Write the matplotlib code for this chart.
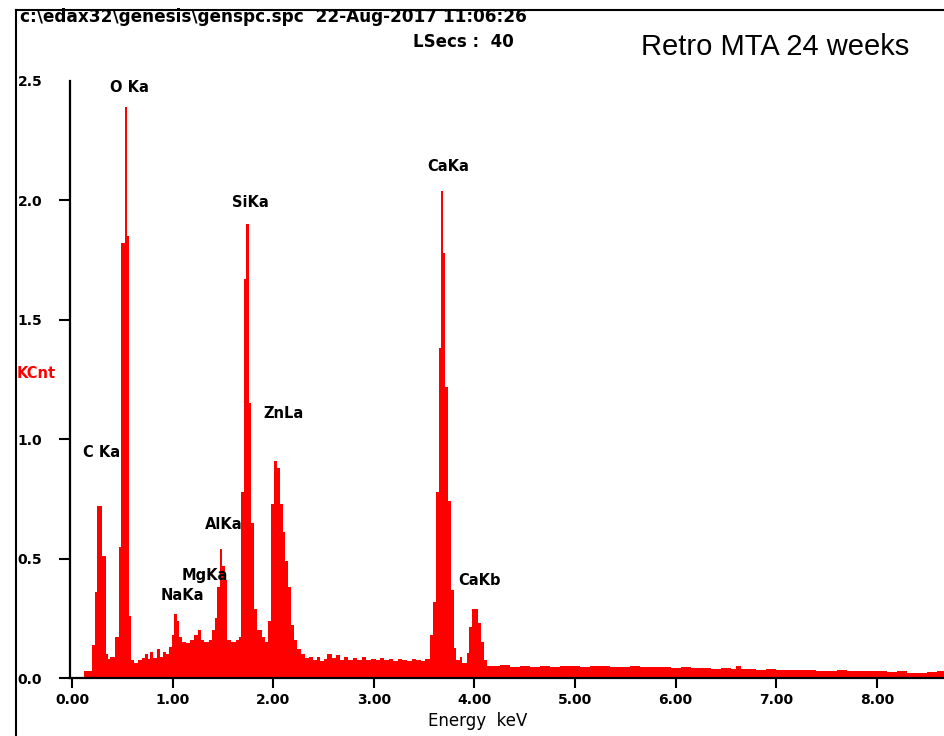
import matplotlib
matplotlib.use('Agg')
from matplotlib import pyplot as plt
from matplotlib.lines import Line2D
import numpy as np

# EDS spectrum, step heights in KCnt between energy edges (keV)
#low energy part: C, O, Na, Mg, Al, Si and Zn L lines
low_edges = [0.12, 0.20, 0.23, 0.25, 0.30, 0.335, 0.36, 0.38, 0.43, 0.47, 0.49, 0.528, 0.546,
             0.57, 0.59, 0.62, 0.66, 0.70, 0.73, 0.76, 0.78, 0.81, 0.84, 0.87, 0.90, 0.93, 0.96,
             0.99, 1.01, 1.04, 1.06, 1.09, 1.13, 1.17, 1.21, 1.25, 1.28, 1.31, 1.36, 1.39, 1.42,
             1.44, 1.47, 1.49, 1.52, 1.545, 1.58, 1.63, 1.66, 1.68, 1.713, 1.734, 1.756, 1.778,
             1.809, 1.842, 1.885, 1.92, 1.95, 1.98, 2.01, 2.04, 2.07, 2.10, 2.12, 2.15, 2.18,
             2.21, 2.24, 2.28, 2.32, 2.36]
low_kcnt = [0.03, 0.14, 0.36, 0.72, 0.51, 0.10, 0.08, 0.09, 0.17, 0.55, 1.82, 2.39, 1.85,
            0.26, 0.075, 0.063, 0.075, 0.085, 0.10, 0.08, 0.11, 0.085, 0.12, 0.09, 0.11, 0.10, 0.13,
            0.18, 0.27, 0.24, 0.17, 0.15, 0.145, 0.16, 0.18, 0.20, 0.16, 0.15, 0.16, 0.20, 0.25,
            0.38, 0.54, 0.47, 0.41, 0.16, 0.15, 0.16, 0.17, 0.78, 1.67, 1.90, 1.15, 0.65,
            0.29, 0.20, 0.17, 0.15, 0.24, 0.73, 0.91, 0.88, 0.73, 0.61, 0.49, 0.38, 0.22,
            0.16, 0.12, 0.10, 0.085, 0.09]

#middle part: background and the two Ca K lines
mid_edges = [2.40, 2.44, 2.47, 2.50, 2.53, 2.58, 2.62, 2.66, 2.70, 2.74, 2.79, 2.83, 2.88,
             2.92, 2.97, 3.02, 3.06, 3.10, 3.15, 3.19, 3.24, 3.28, 3.33, 3.38, 3.42, 3.47, 3.51,
             3.56, 3.59, 3.615, 3.645, 3.665, 3.685, 3.71, 3.74, 3.765, 3.795, 3.82, 3.86, 3.88,
             3.925, 3.95, 3.98, 4.04, 4.07, 4.10]
mid_kcnt = [0.075, 0.09, 0.07, 0.08, 0.10, 0.085, 0.095, 0.075, 0.09, 0.075, 0.085, 0.075, 0.09,
            0.075, 0.08, 0.075, 0.085, 0.075, 0.08, 0.07, 0.08, 0.075, 0.07, 0.08, 0.075, 0.07, 0.08,
            0.18, 0.32, 0.78, 1.38, 2.04, 1.78, 1.22, 0.74, 0.37, 0.125, 0.075, 0.09, 0.063,
            0.105, 0.215, 0.29, 0.23, 0.15, 0.075]

#high energy tail
high_edges = [4.13, 4.25, 4.35, 4.45, 4.55, 4.65, 4.75, 4.85, 4.95, 5.05, 5.15, 5.25, 5.35,
              5.45, 5.55, 5.65, 5.75, 5.85, 5.95, 6.05, 6.15, 6.25, 6.35, 6.45, 6.55, 6.60, 6.65,
              6.80, 6.90, 7.00, 7.10, 7.20, 7.30, 7.40, 7.50, 7.60, 7.70, 7.80, 7.90, 8.00, 8.10,
              8.20, 8.30, 8.50, 8.60]
high_kcnt = [0.05, 0.053, 0.048, 0.052, 0.047, 0.05, 0.046, 0.049, 0.052, 0.046, 0.049, 0.051, 0.046,
             0.048, 0.05, 0.046, 0.044, 0.047, 0.042, 0.044, 0.04, 0.042, 0.038, 0.04, 0.036, 0.05, 0.036,
             0.034, 0.037, 0.033, 0.035, 0.032, 0.034, 0.031, 0.03, 0.032, 0.029, 0.031, 0.028, 0.03, 0.027,
             0.029, 0.02, 0.027, 0.03]
end_kev = 8.70

y_ticks = [0.0, 0.5, 1.0, 1.5, 2.0, 2.5]
y_ticklabels = ['0.0', '0.5', '1.0', '1.5', '2.0', '2.5']
x_ticks = [0, 1, 2, 3, 4, 5, 6, 7, 8]
x_ticklabels = ['0.00', '1.00', '2.00', '3.00', '4.00', '5.00', '6.00', '7.00', '8.00']

#peak labels: text, energy, KCnt
peak_names = ['O Ka', 'SiKa', 'CaKa', 'ZnLa', 'C Ka', 'AlKa', 'MgKa', 'NaKa', 'CaKb']
peak_x = [0.378, 1.59, 3.529, 1.899, 0.109, 1.322, 1.093, 0.885, 3.837]
peak_y = [2.473, 1.991, 2.140, 1.106, 0.946, 0.641, 0.431, 0.345, 0.410]

edges = np.array(low_edges + mid_edges + high_edges + [end_kev])
kcnt = np.array(low_kcnt + mid_kcnt + high_kcnt)

W, H = 944, 736
fig = plt.figure(figsize=(W / 100, H / 100), dpi=100)
ax = fig.add_axes([70 / W, 1 - 678 / H, (W - 70) / W, (678 - 81) / H])

ax.stairs(kcnt, edges, fill=True, color='#ff0000', linewidth=0, zorder=1)

ax.set_xlim(-0.02, 8.668)
ax.set_ylim(0, 2.5)
for side in ['top', 'right']:
    ax.spines[side].set_visible(False)
for side in ['left', 'bottom']:
    ax.spines[side].set_linewidth(1.6)
    ax.spines[side].set_zorder(3)

ax.set_yticks(y_ticks)
ax.set_yticklabels(y_ticklabels)
ax.set_xticks(x_ticks)
ax.set_xticklabels(x_ticklabels)
ax.tick_params(axis='y', length=8, width=1.5, pad=12, labelsize=10)
ax.tick_params(axis='x', length=7, width=1.5, pad=4, labelsize=10)
for lab in ax.get_xticklabels() + ax.get_yticklabels():
    lab.set_fontweight('bold')
#no tick mark at the top of the y axis
ax.yaxis.get_major_ticks()[-1].tick1line.set_visible(False)

for name, px, py in zip(peak_names, peak_x, peak_y):
    ax.text(px, py, name, ha='left', va='center', fontsize=10.5, fontweight='bold')

fig.text(20 / W, 1 - 17 / H, 'c:\\edax32\\genesis\\genspc.spc  22-Aug-2017 11:06:26',
         ha='left', va='center', fontsize=12.2, fontweight='bold')
fig.text(413 / W, 1 - 42 / H, 'LSecs :  40', ha='left', va='center', fontsize=12, fontweight='bold')
fig.text(641 / W, 1 - 47 / H, 'Retro MTA 24 weeks', ha='left', va='center',
         fontsize=21, family='Liberation Sans')
fig.text(17 / W, 1 - 374 / H, 'KCnt', ha='left', va='center', fontsize=10.5,
         fontweight='bold', color='#ff0000')
fig.text(478 / W, 1 - 721 / H, 'Energy  keV', ha='center', va='center', fontsize=12)

#frame lines along the top and left edge
fig.add_artist(Line2D([15.5 / W, 1], [1 - 9.5 / H, 1 - 9.5 / H], color='black', lw=1.5,
                      transform=fig.transFigure))
fig.add_artist(Line2D([15.5 / W, 15.5 / W], [0, 1 - 9.5 / H], color='black', lw=1.5,
                      transform=fig.transFigure))

fig.savefig('out.png', dpi=100)
